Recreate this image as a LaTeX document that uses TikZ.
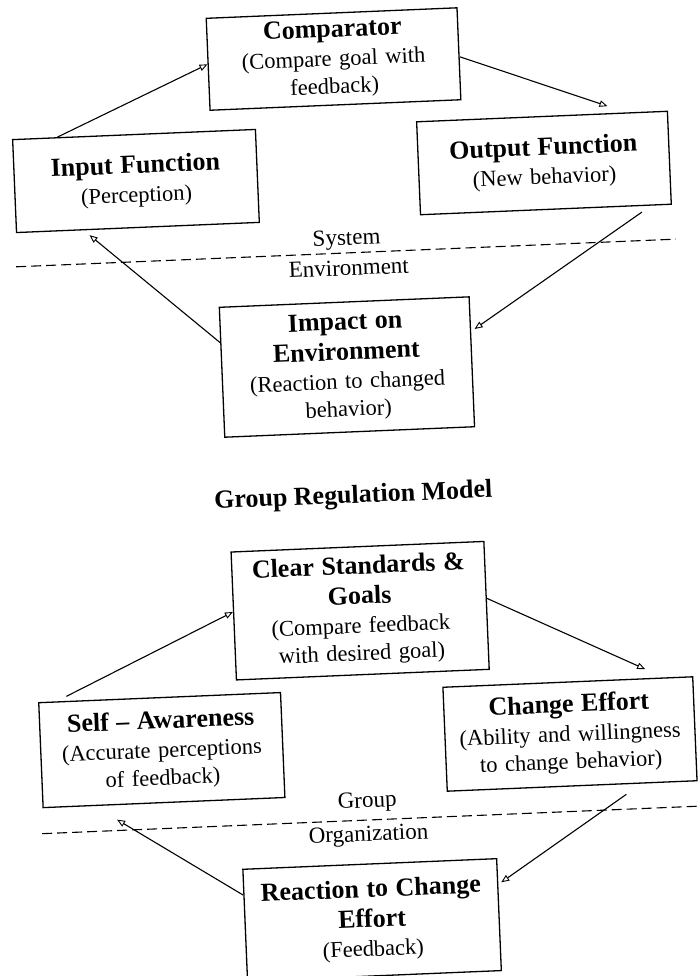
\documentclass[tikz,border=0pt]{standalone}
\usepackage{fontspec}
\setmainfont{Liberation Serif}
\usetikzlibrary{calc,arrows.meta}

% text settings for the boxes
\newcommand\boxhead{\fontsize{26}{30}\selectfont\bfseries}
\newcommand\boxnote{\fontsize{22.5}{27.5}\selectfont\mdseries}
% bold heading lines followed by a small gap
\newcommand\headlines[1]{{\boxhead #1\par}\vspace{1.5pt}}

\tikzset{
  box/.style={draw, line width=1.3pt, inner sep=0pt, align=center,
              font=\boxnote, transform shape},
  arr/.style={line width=1.1pt,
              -{Triangle[open, length=8pt, width=6.5pt, line width=0.9pt]}},
  divider/.style={line width=1.1pt, dash pattern=on 10pt off 5pt},
  label/.style={font=\fontsize{23}{26}\selectfont, inner sep=0pt, transform shape},
  heading/.style={font=\fontsize{26}{29}\selectfont\bfseries, inner sep=0pt, transform shape}
}

\begin{document}
\begin{tikzpicture}[x=1pt, y=-1pt]
  \useasboundingbox (0,0) rectangle (699,976);

  \begin{scope}[rotate around={2.4:(350,488)}]

    % ---------- self-regulation loop ----------
    \node[box, minimum width=251pt, minimum height=92pt, text width=240pt]
      (cmp) at (351.5,58.7) {\headlines{Comparator}(Compare goal with\\ feedback)};
    \node[box, minimum width=243pt, minimum height=93pt, text width=232pt]
      (inp) at (149,172.3) {\headlines{Input Function}(Perception)};
    \node[box, minimum width=251pt, minimum height=93pt, text width=240pt]
      (out) at (557.4,171.4) {\headlines{Output Function}(New behavior)};
    \node[box, minimum width=250pt, minimum height=130pt, text width=240pt]
      (imp) at (352,367) {\headlines{Impact on\\ Environment}(Reaction to changed\\ behavior)};

    \draw[divider] (25.6,253) -- (686,253);
    \node[label] (sys) at (357,240) {System};
    \node[label] (env) at (358,268) {Environment};

    \draw[arr] ($(inp.north west)+(45.5,0)$) -- (cmp.west);
    \draw[arr] ($(cmp.east)+(0,3)$) -- ($(out.north west)+(192,-7)$);
    \draw[arr] ($(out.south west)+(222,6)$) -- ($(imp.north east)+(3.5,33)$);
    \draw[arr] ($(imp.north west)+(0,36)$) -- ($(inp.south west)+(73.5,5)$);

    % ---------- group regulation loop ----------
    \node[heading] (title) at (353,497) {Group Regulation Model};

    \node[box, minimum width=253pt, minimum height=128pt, text width=243pt]
      (clr) at (355,611) {\headlines{Clear Standards \&\\ Goals}(Compare feedback\\ with desired goal)};
    \node[box, minimum width=242pt, minimum height=105pt, text width=236pt]
      (self) at (151,742) {\headlines{Self – Awareness}(Accurate perceptions\\ of feedback)};
    \node[box, minimum width=250pt, minimum height=104pt, text width=244pt]
      (chg) at (559.5,743) {\headlines{Change Effort}(Ability and willingness\\ to change behavior)};
    \node[box, minimum width=254pt, minimum height=112pt, text width=244pt]
      (rea) at (354,920.5) {\headlines{Reaction to Change\\ Effort}(Feedback)};

    \draw[divider] (28,820.5) -- (692,820.5);
    \node[label] (grp) at (354,803) {Group};
    \node[label] (org) at (354,836.5) {Organization};

    \draw[arr] ($(self.north west)+(28.5,-4.5)$) -- ($(clr.west)+(0,-4)$);
    \draw[arr] ($(clr.east)+(0,-7)$) -- ($(chg.north west)+(203.5,-9)$);
    \draw[arr] ($(chg.south west)+(179.5,10)$) -- ($(rea.north east)+(3,24.5)$);
    \draw[arr] ($(rea.north west)+(0,26.5)$) -- ($(self.south west)+(74,14.5)$);

  \end{scope}
\end{tikzpicture}
\end{document}
